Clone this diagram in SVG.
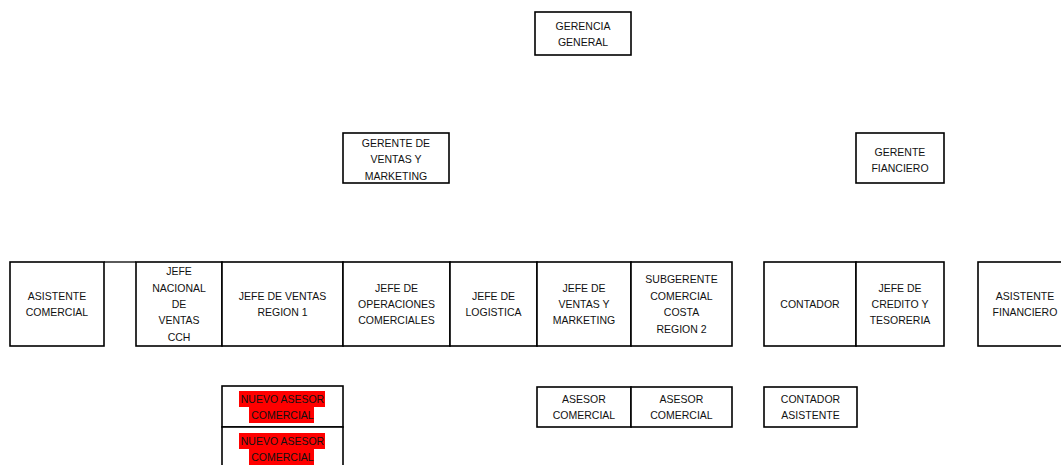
<svg xmlns="http://www.w3.org/2000/svg" width="1061" height="465" viewBox="0 0 1061 465">
<style>
.b{fill:#fff;stroke:#000;stroke-width:1.6}
.l{stroke:#000;stroke-width:1.3;fill:none}
text{font-family:"Liberation Sans",Arial,sans-serif;font-size:10.5px;fill:#111;text-anchor:middle}
.hl{fill:#ff0000}
</style>
<rect width="1061" height="465" fill="#fff"/>
<g id="connectors"></g>
<g id="gerencia-general"><rect class="b" x="535" y="12" width="96" height="43"/><text x="583" y="30">GERENCIA</text><text x="583" y="46">GENERAL</text></g>
<g id="gerente-ventas"><rect class="b" x="343" y="133" width="106" height="50"/><text x="396" y="147">GERENTE DE</text><text x="396" y="163">VENTAS Y</text><text x="396" y="180">MARKETING</text></g>
<g id="gerente-financiero"><rect class="b" x="856" y="133" width="88" height="50"/><text x="900" y="156">GERENTE</text><text x="900" y="172">FIANCIERO</text></g>
<g id="asistente-comercial"><rect class="b" x="10" y="262" width="94" height="84"/><text x="57" y="300">ASISTENTE</text><text x="57" y="316">COMERCIAL</text></g>
<g id="celda-vacia"><path class="l" d="M104 262H136"/></g>
<g id="jefe-nacional"><rect class="b" x="136" y="262" width="86" height="84"/><text x="179" y="275">JEFE</text><text x="179" y="292">NACIONAL</text><text x="179" y="308">DE</text><text x="179" y="324">VENTAS</text><text x="179" y="341">CCH</text></g>
<g id="jefe-ventas-r1"><rect class="b" x="222" y="262" width="121" height="84"/><text x="282.5" y="300">JEFE DE VENTAS</text><text x="282.5" y="316">REGION 1</text></g>
<g id="jefe-operaciones"><rect class="b" x="343" y="262" width="107" height="84"/><text x="396.5" y="292">JEFE DE</text><text x="396.5" y="308">OPERACIONES</text><text x="396.5" y="324">COMERCIALES</text></g>
<g id="jefe-logistica"><rect class="b" x="450" y="262" width="87" height="84"/><text x="493.5" y="300">JEFE DE</text><text x="493.5" y="316">LOGISTICA</text></g>
<g id="jefe-ventas-marketing"><rect class="b" x="537" y="262" width="94" height="84"/><text x="584" y="292">JEFE DE</text><text x="584" y="308">VENTAS Y</text><text x="584" y="324">MARKETING</text></g>
<g id="subgerente"><rect class="b" x="631" y="262" width="101" height="84"/><text x="681.5" y="283">SUBGERENTE</text><text x="681.5" y="300">COMERCIAL</text><text x="681.5" y="316">COSTA</text><text x="681.5" y="333">REGION 2</text></g>
<g id="contador"><rect class="b" x="764" y="262" width="92" height="84"/><text x="810" y="308">CONTADOR</text></g>
<g id="jefe-credito"><rect class="b" x="856" y="262" width="88" height="84"/><text x="900" y="292">JEFE DE</text><text x="900" y="308">CREDITO Y</text><text x="900" y="324">TESORERIA</text></g>
<g id="asistente-financiero"><rect class="b" x="978" y="262" width="90" height="84"/><text x="1025" y="300">ASISTENTE</text><text x="1025" y="316">FINANCIERO</text></g>
<g id="nuevo-asesor-1"><rect class="b" x="222" y="386" width="121" height="41"/><rect class="hl" x="239" y="391" width="86" height="16"/><rect class="hl" x="249" y="407" width="65" height="16"/><text x="282.5" y="403">NUEVO ASESOR</text><text x="282.5" y="419">COMERCIAL</text></g>
<g id="nuevo-asesor-2"><rect class="b" x="222" y="427" width="121" height="45"/><rect class="hl" x="239" y="433" width="86" height="16"/><rect class="hl" x="249" y="449" width="65" height="16"/><text x="282.5" y="445">NUEVO ASESOR</text><text x="282.5" y="461">COMERCIAL</text></g>
<g id="asesor-1"><rect class="b" x="537" y="387" width="94" height="40"/><text x="584" y="403">ASESOR</text><text x="584" y="419">COMERCIAL</text></g>
<g id="asesor-2"><rect class="b" x="631" y="387" width="101" height="40"/><text x="681.5" y="403">ASESOR</text><text x="681.5" y="419">COMERCIAL</text></g>
<g id="contador-asistente"><rect class="b" x="764" y="387" width="93" height="40"/><text x="810.5" y="403">CONTADOR</text><text x="810.5" y="419">ASISTENTE</text></g>
</svg>
